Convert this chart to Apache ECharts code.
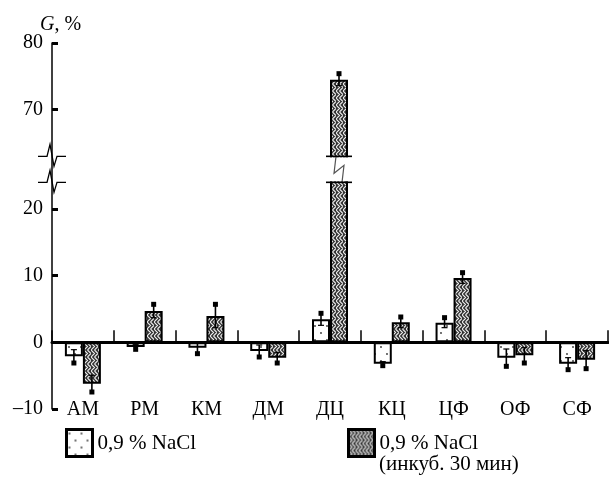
<!DOCTYPE html>
<html><head><meta charset="utf-8">
<script src="https://cdn.jsdelivr.net/npm/echarts@6/dist/echarts.min.js"></script>
<style>html,body{margin:0;padding:0;background:#fff}#c{width:609px;height:477px}</style>
</head><body><div id="c"></div>
<script>
// ---- data ----
const categories = ['АМ', 'РМ', 'КМ', 'ДМ', 'ДЦ', 'КЦ', 'ЦФ', 'ОФ', 'СФ'];
const salineMean = [-2.1, -0.7, -0.8, -1.3, 3.45, -3.2, 2.95, -2.3, -3.2];
const salineErr  = [1.0, 0.35, 0.9, 0.9, 0.9, 0.3, 0.75, 1.3, 0.9];
const incubMean  = [-6.2, 4.7, 3.95, -2.3, 74.5, 3.0, 9.65, -1.95, -2.6];
const incubErr   = [1.25, 1.0, 1.75, 0.8, 0.9, 0.8, 0.8, 1.15, 1.35];
const yTickValues = [-10, 0, 10, 20, 70, 80];
const breakStart = 24, breakEnd = 63;
const seriesNames = ['0,9 % NaCl', '0,9 % NaCl (инкуб. 30 мин)'];

// ---- styles ----
const FONT = '"Liberation Serif", "Times New Roman", serif';
const BAR_W = 18, BAR_OFF = 9;

function makePattern(w, h, draw) {
  const c = document.createElement('canvas');
  c.width = w; c.height = h;
  draw(c.getContext('2d'));
  return { image: c, repeat: 'repeat' };
}
const dotPattern = makePattern(12, 14, g => {
  g.fillStyle = '#fff'; g.fillRect(0, 0, 12, 14);
  g.fillStyle = '#333';
  g.beginPath(); g.arc(3, 4, 0.9, 0, Math.PI * 2); g.fill();
  g.beginPath(); g.arc(9, 11, 0.9, 0, Math.PI * 2); g.fill();
});
const braidPattern = makePattern(7, 7, g => {
  g.fillStyle = '#333'; g.fillRect(0, 0, 7, 7);
  g.strokeStyle = '#eee'; g.lineWidth = 1.1;
  g.beginPath();
  g.moveTo(0, 0); g.lineTo(3.5, 3.5); g.lineTo(0, 7);
  g.moveTo(3.5, 0); g.lineTo(7, 3.5); g.lineTo(3.5, 7);
  g.stroke();
});

function errRender(side) {
  return function (params, api) {
    const i = api.value(0), m = api.value(1), e = api.value(2);
    const dir = m >= 0 ? 1 : -1;
    const c = api.coord([i, m]);
    const x = c[0] + side * BAR_OFF;
    const pOut = api.coord([i, m + dir * e]);
    const pIn = api.coord([i, m - dir * e]);
    return { type: 'group', children: [
      { type: 'line', shape: { x1: x, y1: pIn[1], x2: x, y2: pOut[1] }, style: { stroke: '#000', lineWidth: 1.6 } },
      { type: 'line', shape: { x1: x - 3, y1: pIn[1], x2: x + 3, y2: pIn[1] }, style: { stroke: '#000', lineWidth: 1.2 } },
      { type: 'rect', shape: { x: x - 2.5, y: pOut[1] - 2.5, width: 5, height: 5 }, style: { fill: '#000' } }
    ]};
  };
}

function boltPoints(x, y, half) {
  return [[x - half, y], [x - 5, y], [x - 2, y - 12], [x + 2, y + 10], [x + 5, y], [x + half, y]];
}

const breakData = [[-1, 0]].concat(
  incubMean.map((v, i) => [i, v]).filter(d => d[1] > breakEnd)
);

function breakRender(params, api) {
  const i = api.value(0);
  const yTop = api.coord([0, breakEnd])[1];
  const yBot = api.coord([0, breakStart])[1];
  if (i < 0) {
    const x0 = api.coord([0, 0])[0] - api.size([1, 0])[0] / 2;
    return { type: 'group', children: [
      { type: 'polyline', shape: { points: boltPoints(x0, yTop, 14) }, style: { stroke: '#000', fill: null, lineWidth: 1.3 } },
      { type: 'polyline', shape: { points: boltPoints(x0, yBot, 14) }, style: { stroke: '#000', fill: null, lineWidth: 1.3 } }
    ]};
  }
  const xc = api.coord([i, 0])[0] + BAR_OFF;
  const hw = BAR_W / 2 + 4;
  const ym = (yTop + yBot) / 2;
  return { type: 'group', children: [
    { type: 'rect', shape: { x: xc - hw, y: yTop + 1, width: hw * 2, height: yBot - yTop - 2 }, style: { fill: '#fff' } },
    { type: 'polyline', shape: { points: [[xc - 3, yTop], [xc - 5, ym + 4], [xc + 5, ym - 4], [xc + 3, yBot]] }, style: { stroke: '#555', fill: null, lineWidth: 1.2 } },
    { type: 'line', shape: { x1: xc - hw, y1: yTop, x2: xc + hw, y2: yTop }, style: { stroke: '#000', lineWidth: 1.6 } },
    { type: 'line', shape: { x1: xc - hw, y1: yBot, x2: xc + hw, y2: yBot }, style: { stroke: '#000', lineWidth: 1.6 } }
  ]};
}

const legendCommon = {
  padding: 0, itemWidth: 26, itemHeight: 27, icon: 'rect',
  itemStyle: { borderColor: '#000', borderWidth: 3 },
  textStyle: { fontFamily: FONT, fontSize: 21, color: '#000' }
};

const chart = echarts.init(document.getElementById('c'), null, { renderer: 'canvas' });
chart.setOption({
  animation: false,
  backgroundColor: '#fff',
  textStyle: { fontFamily: FONT, color: '#000' },
  title: {
    text: '{i|G}, %', left: 40, top: 15, padding: 0,
    textStyle: { fontFamily: FONT, fontSize: 20, fontWeight: 'normal', color: '#000',
      rich: { i: { fontFamily: FONT, fontSize: 20, fontStyle: 'italic', color: '#000' } } }
  },
  graphic: [{
    type: 'text', left: 379, top: 454,
    style: { text: '(' + seriesNames[1].split(' (')[1], font: '21px ' + FONT, fill: '#000' }
  }],
  grid: { left: 52, right: 1, top: 43, bottom: 68, containLabel: false },
  legend: [
    Object.assign({ data: [seriesNames[0]], left: 65, top: 428 }, legendCommon),
    Object.assign({ data: [seriesNames[1]], left: 347, top: 428,
      formatter: n => n.split(' (')[0] }, legendCommon)
  ],
  xAxis: [
    { type: 'category', data: categories, position: 'bottom',
      axisLine: { show: false, onZero: false }, axisTick: { show: false },
      axisLabel: { fontFamily: FONT, fontSize: 20, color: '#000', margin: 1, verticalAlign: 'middle' } },
    { type: 'category', data: categories, position: 'top',
      axisLine: { show: true, onZero: true, lineStyle: { color: '#000', width: 3 } },
      axisTick: { show: true, inside: false, length: 12, lineStyle: { color: '#000', width: 1.5 } },
      axisLabel: { show: false } }
  ],
  yAxis: {
    type: 'value', min: -10, max: 80, interval: 10,
    breaks: [{ start: breakStart, end: breakEnd, gap: '7.1%' }],
    breakArea: { show: false },
    axisLine: { show: true, onZero: false, breakLine: false, lineStyle: { color: '#000', width: 1.5 } },
    axisTick: { show: true, inside: true, length: 6, customValues: yTickValues, lineStyle: { color: '#000', width: 3 } },
    splitLine: { show: false },
    axisLabel: { fontFamily: FONT, fontSize: 20, color: '#000', margin: 9, customValues: yTickValues,
      formatter: v => String(v).replace('-', '–') }
  },
  series: [
    { name: seriesNames[0], type: 'bar', data: salineMean, barWidth: BAR_W, barGap: '0%', z: 2,
      itemStyle: { color: dotPattern, borderColor: '#000', borderWidth: 2 } },
    { name: seriesNames[1], type: 'bar', data: incubMean, barWidth: BAR_W, barGap: '0%', z: 2,
      itemStyle: { color: braidPattern, borderColor: '#000', borderWidth: 2 } },
    { type: 'custom', name: 'errS', renderItem: errRender(-1), z: 5,
      data: salineMean.map((v, i) => [i, v, salineErr[i]]) },
    { type: 'custom', name: 'errI', renderItem: errRender(1), z: 5,
      data: incubMean.map((v, i) => [i, v, incubErr[i]]) },
    { type: 'custom', name: 'breaks', renderItem: breakRender, z: 6, clip: false, data: breakData }
  ]
});
</script></body></html>
